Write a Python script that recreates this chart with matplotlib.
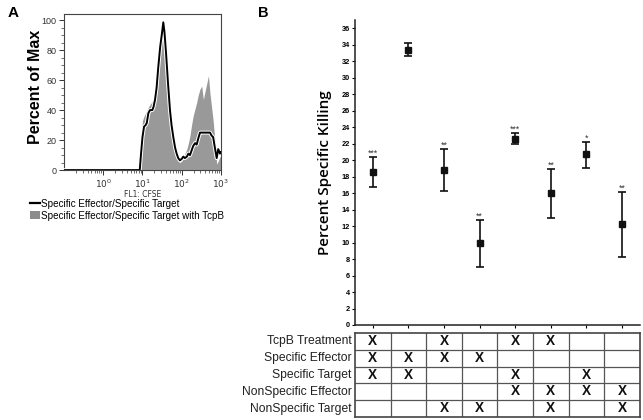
import numpy as np
import matplotlib
matplotlib.use("Agg")
import matplotlib.pyplot as plt
from matplotlib.lines import Line2D
from matplotlib.patches import Patch
import matplotlib.patheffects as pe

# ---- panel A: CFSE histogram (x in log10 units, y percent of max) ----
cfse_log_ctrl = [-1.0, 0.93, 0.96, 1.00, 1.04, 1.08, 1.11, 1.15, 1.19, 1.25, 1.28, 1.32,
                 1.36, 1.40, 1.45, 1.50, 1.53, 1.56, 1.60, 1.65, 1.70, 1.74, 1.785,
                 1.83, 1.87, 1.91, 1.955, 2.00, 2.04, 2.08, 2.13, 2.17, 2.21, 2.25,
                 2.29, 2.34, 2.38, 2.42, 2.465, 2.51, 2.55, 2.64, 2.72, 2.76, 2.80,
                 2.85, 2.89, 2.93, 2.975, 3.0]
pct_ctrl = [0, 0, 10, 22, 29, 30, 31.5, 38, 40, 40, 42, 47,
            55, 68, 82, 92, 98.5, 92, 78, 58, 40, 30, 22,
            15, 11, 8, 6.5, 7.5, 9, 8, 9, 11, 10, 13,
            16, 18, 17, 21, 25, 25, 25, 25, 25, 23, 22,
            14, 8, 14, 11, 12]

cfse_log_tcpb = [-1.0, 0.93, 0.96, 1.00, 1.04, 1.08, 1.15, 1.20, 1.28, 1.32, 1.36, 1.40,
                 1.45, 1.50, 1.53, 1.57, 1.62, 1.66, 1.70, 1.74, 1.785, 1.83, 1.87,
                 1.91, 1.955, 2.00, 2.04, 2.08, 2.13, 2.17, 2.21, 2.25, 2.29, 2.34,
                 2.38, 2.42, 2.465, 2.51, 2.55, 2.59, 2.64, 2.68, 2.72, 2.76, 2.80,
                 2.85, 2.89, 2.93, 2.975, 3.0]
pct_tcpb = [0, 0, 20, 33, 36, 38, 42, 44, 47, 52, 62, 72,
            85, 94, 98, 85, 67, 50, 33, 22, 15, 11, 8,
            6, 5, 6, 8, 11, 14, 18, 23, 30, 36, 41,
            45, 50, 54, 56, 47, 52, 58, 63, 51, 42, 33,
            18, 4, 6, 9, 8]

legend_labels = ["Specific Effector/Specific Target",
                 "Specific Effector/Specific Target with TcpB"]

# ---- panel B: percent specific killing ----
kill_mean = [18.6, 33.4, 18.8, 9.9, 22.6, 16.0, 20.7, 12.2]
kill_low = [16.8, 32.7, 16.2, 7.0, 22.0, 13.0, 19.0, 8.3]
kill_high = [20.4, 34.2, 21.4, 12.8, 23.3, 18.9, 22.2, 16.1]
stars = ["***", "", "**", "**", "***", "**", "*", "**"]

row_labels = ["TcpB Treatment", "Specific Effector", "Specific Target",
              "NonSpecific Effector", "NonSpecific Target"]
marks = [[1, 0, 1, 0, 1, 1, 0, 0],
         [1, 1, 1, 1, 0, 0, 0, 0],
         [1, 1, 0, 0, 1, 0, 1, 0],
         [0, 0, 0, 0, 1, 1, 1, 1],
         [0, 0, 1, 1, 0, 1, 0, 1]]

plt.rcParams["font.family"] = ["Liberation Sans", "DejaVu Sans"]

fig = plt.figure(figsize=(6.43, 4.20), dpi=100)
fig.patch.set_facecolor("white")

# ================= panel A =================
axA = fig.add_axes([0.0995, 0.595, 0.2442, 0.3714])
xc = 10 ** np.array(cfse_log_ctrl)
xt = 10 ** np.array(cfse_log_tcpb)
axA.fill_between(xt, pct_tcpb, 0, color="#999999", lw=0, zorder=1)
axA.plot(xc, pct_ctrl, color="black", lw=1.4, zorder=3,
         path_effects=[pe.withStroke(linewidth=2.8, foreground="white")])
axA.set_xscale("log")
axA.set_xlim(0.1, 1000)
axA.set_ylim(0, 104)
axA.set_xticks([1, 10, 100, 1000])
axA.set_xticklabels([r"$10^0$", r"$10^1$", r"$10^2$", r"$10^3$"])
axA.set_yticks([0, 20, 40, 60, 80, 100])
axA.set_yticks(np.arange(0, 101, 5), minor=True)
axA.tick_params(axis="both", which="major", labelsize=6.5, length=3.5, width=0.7,
                colors="#333333", pad=2)
axA.tick_params(axis="both", which="minor", length=2, width=0.5, colors="#333333")
for s in axA.spines.values():
    s.set_linewidth(0.8)
    s.set_color("#444444")
axA.set_ylabel("Percent of Max", fontsize=11.5, fontweight="bold")
axA.yaxis.set_label_coords(-0.135, 0.535)
axA.set_xlabel("FL1: CFSE", fontsize=5.5, family="DejaVu Sans", labelpad=0,
               color="#333333")

handles = [Line2D([0], [0], color="black", lw=1.6),
           Patch(facecolor="#8c8c8c", edgecolor="none")]
fig.legend(handles, legend_labels, loc="upper left", bbox_to_anchor=(0.047, 0.527),
           frameon=False, fontsize=7.1, handlelength=0.95, handleheight=0.9,
           handletextpad=0.15, labelspacing=0.2, borderpad=0, borderaxespad=0)

fig.text(0.012, 0.985, "A", fontsize=11, fontweight="bold", va="top")

# ================= panel B =================
axB = fig.add_axes([0.552, 0.2262, 0.443, 0.726])
pos = np.arange(len(kill_mean))
mean = np.array(kill_mean)
err = [mean - np.array(kill_low), np.array(kill_high) - mean]
axB.errorbar(pos, mean, yerr=err, fmt="s", color="#111111", ms=5,
             elinewidth=1.2, capsize=3.2, capthick=1.2)
for x, hi, st in zip(pos, kill_high, stars):
    if st:
        axB.text(x, hi + 0.45, st, ha="center", va="center", fontsize=6.3,
                 color="#333333")
axB.set_xlim(-0.5, 7.5)
axB.set_ylim(0, 37)
axB.set_yticks(np.arange(0, 37, 2))
axB.set_xticks(pos)
axB.set_xticklabels([])
axB.spines["top"].set_visible(False)
axB.spines["right"].set_visible(False)
for s in ["left", "bottom"]:
    axB.spines[s].set_linewidth(1.1)
    axB.spines[s].set_color("#222222")
axB.tick_params(axis="y", labelsize=5.3, length=2.5, width=0.8, pad=1)
for lab in axB.get_yticklabels():
    lab.set_fontweight("bold")
axB.tick_params(axis="x", length=2.5, width=0.8)
axB.set_ylabel("Percent Specific Killing", fontsize=11, family="Open Sans",
               fontweight="semibold")
axB.yaxis.set_label_coords(-0.08, 0.5)

fig.text(0.402, 0.985, "B", fontsize=10.5, fontweight="bold", va="top")

# ================= treatment table =================
axT = fig.add_axes([0.552, 0.0071, 0.443, 0.2])
axT.set_xlim(-0.5, 7.5)
axT.set_ylim(len(row_labels), 0)
for r, row in enumerate(marks):
    for c, m in enumerate(row):
        if m:
            axT.text(c, r + 0.47, "X", ha="center", va="center", fontsize=9.8,
                     fontweight="bold", color="#111111")
    axT.text(-0.6, r + 0.5, row_labels[r], ha="right", va="center", fontsize=8.7,
             color="#222222")
for r in range(1, len(row_labels)):
    axT.axhline(r, color="#555555", lw=0.9)
for c in range(1, len(kill_mean)):
    axT.axvline(c - 0.5, color="#555555", lw=0.9)
axT.set_xticks([])
axT.set_yticks([])
for s in axT.spines.values():
    s.set_linewidth(1.2)
    s.set_color("#444444")

fig.savefig("out.png", dpi=100)
